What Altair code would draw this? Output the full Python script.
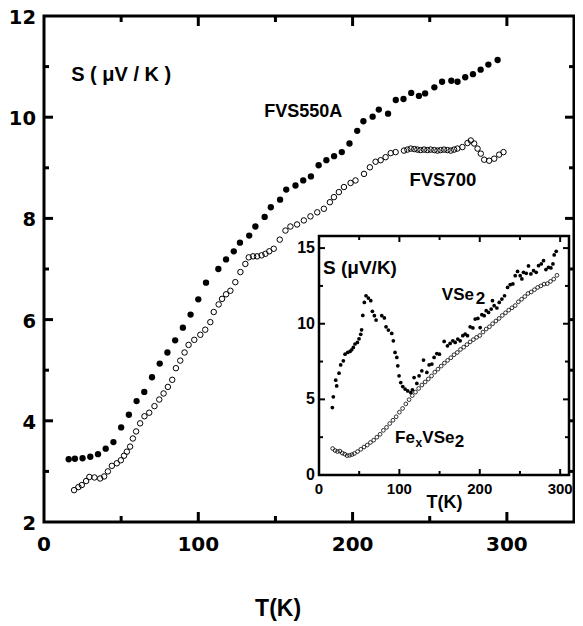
import altair as alt
import pandas as pd

# ---------------- data ----------------
T_550 = [16, 20, 25, 30, 35, 40, 45, 50, 55, 60, 65, 70, 75, 80, 85, 90, 95, 100, 105, 113,
         118, 123, 127, 133, 137, 143, 147, 153, 157, 163, 168, 173, 178, 183, 188, 193, 198,
         203, 207, 213, 217, 223, 228, 233, 238, 243, 247, 253, 258, 264, 268, 273, 278, 283,
         288, 294]
S_550 = [3.24, 3.25, 3.26, 3.29, 3.34, 3.45, 3.58, 3.87, 4.12, 4.39, 4.57, 4.86, 5.13, 5.35,
         5.59, 5.84, 6.10, 6.40, 6.73, 7.00, 7.19, 7.35, 7.52, 7.66, 7.84, 8.03, 8.22, 8.37,
         8.57, 8.65, 8.75, 8.83, 9.05, 9.15, 9.23, 9.31, 9.48, 9.73, 9.92, 10.01, 10.15, 10.07,
         10.34, 10.36, 10.48, 10.42, 10.47, 10.59, 10.70, 10.72, 10.70, 10.79, 10.85, 10.94,
         11.04, 11.13]

T_700 = [19.5, 22.3, 24.5, 27.3, 29.4, 32.7, 36.4, 39, 41.4, 44, 47.2, 49.8, 51.9, 53.7, 55.8,
         57.6, 59.7, 62.3, 65.1, 68.2, 71.6, 74.7, 77.5, 80.3, 83.1, 85.5, 88.3, 91.1, 93.7,
         97.4, 101.3, 104.5, 107.8, 110, 113.2, 115.4, 118, 120.8, 124, 127.3, 130.5, 132.7,
         135.5, 138.1, 141, 143.5, 146, 148.9, 152.8, 156.5, 159.7, 164, 168.4, 172.7, 177.1,
         181.4, 185.3, 187.9, 191.1, 194.4, 198.7, 201.9, 207.4, 211.2, 214.9, 218.2, 221.4,
         224.7, 227.9, 233.3, 235.5, 237.7, 240, 242, 244, 246.3, 248.5, 250.6, 253, 255, 257,
         259.3, 261.5, 263.6, 265.8, 267.9, 271.2, 274.5, 276.6, 278.8, 281, 283.1, 285.3,
         288.5, 291.8, 295, 297.8]
S_700 = [2.63, 2.69, 2.73, 2.81, 2.89, 2.88, 2.86, 2.90, 3.00, 3.11, 3.16, 3.22, 3.31, 3.39,
         3.49, 3.65, 3.79, 3.95, 4.09, 4.16, 4.29, 4.42, 4.54, 4.67, 4.81, 5.04, 5.19, 5.35,
         5.50, 5.60, 5.70, 5.80, 5.95, 6.15, 6.30, 6.41, 6.50, 6.57, 6.74, 6.94, 7.10, 7.23,
         7.25, 7.25, 7.27, 7.30, 7.35, 7.40, 7.58, 7.76, 7.84, 7.88, 7.96, 8.04, 8.12, 8.19,
         8.32, 8.42, 8.52, 8.62, 8.70, 8.75, 8.88, 9.01, 9.12, 9.15, 9.21, 9.29, 9.31, 9.34,
         9.36, 9.38, 9.37, 9.36, 9.35, 9.36, 9.35, 9.36, 9.35, 9.34, 9.35, 9.36, 9.35, 9.34,
         9.36, 9.38, 9.41, 9.49, 9.54, 9.48, 9.38, 9.28, 9.16, 9.14, 9.18, 9.26, 9.31]

T_VSE2 = [16.6, 17.8, 20.8, 22, 24.9, 27, 30.3, 32.4, 35.7, 38.6, 40.7, 42.7, 44.8, 47.7, 49.8,
          51.9, 53, 54.5, 56.4, 58.5, 61.4, 64.4, 66.4, 68.9, 71, 78.1, 81.3, 83.4, 86.3, 90.5,
          92.5, 94.6, 96.8, 98, 99.6, 101.7, 104.2, 107.1, 110.4, 114.2, 116.2, 118.3, 121.7,
          124.5, 127.9, 130, 134.2, 137, 140.4, 143.2, 146.6, 149.8, 155.7, 159.8, 163.1, 166.5,
          169.4, 172.7, 175.6, 178.9, 181.8, 184.7, 188, 191.4, 194.3, 197.6, 200.5, 202.6,
          205.5, 208, 210.9, 214.2, 215.8, 217.9, 221.3, 224.2, 227.5, 230.8, 234.6, 237.9,
          241.2, 244.1, 247, 250.3, 252.4, 254.4, 257.8, 260.6, 263.6, 266.9, 270.2, 273.1,
          276.5, 279.3, 282.3, 285.5, 288.5, 291, 292.6, 295.1]
S_VSE2 = [4.46, 5.17, 6.27, 5.89, 6.73, 7.28, 7.55, 7.99, 8.10, 8.17, 8.28, 8.43, 8.66, 8.76,
          9.00, 9.30, 9.60, 10.55, 11.41, 11.85, 11.70, 11.52, 10.82, 10.53, 10.24, 10.53, 10.38,
          9.80, 9.58, 9.36, 8.87, 8.10, 7.77, 7.22, 6.56, 6.11, 5.85, 5.68, 5.56, 5.45, 5.63,
          6.44, 6.05, 6.56, 6.89, 7.60, 6.78, 7.28, 7.33, 7.77, 8.03, 7.99, 8.83, 8.54, 8.70,
          8.87, 8.76, 8.99, 8.87, 9.21, 9.32, 9.21, 9.80, 9.72, 10.31, 10.35, 9.75, 10.60, 10.53,
          10.86, 10.75, 10.97, 11.52, 11.19, 11.04, 11.41, 11.63, 11.85, 12.40, 12.58, 12.63,
          13.18, 13.46, 13.18, 12.96, 13.40, 13.33, 13.82, 13.29, 13.51, 13.40, 13.84, 13.95,
          14.17, 13.58, 13.73, 13.69, 13.95, 14.55, 14.79]

T_FEVSE2 = [17, 20, 23, 26, 29, 32, 35, 38, 41, 44, 48, 52, 56, 60, 64, 68, 72, 76, 80, 84, 88,
            92, 96, 100, 104, 108, 112, 116, 120, 124, 128, 132, 136, 140, 144, 148, 152, 156,
            160, 164, 168, 172, 176, 180, 184, 188, 192, 196, 200, 204, 208, 212, 216, 220, 224,
            228, 232, 236, 240, 244, 248, 252, 256, 260, 264, 268, 272, 276, 280, 284, 288, 292,
            296]
S_FEVSE2 = [1.75, 1.62, 1.55, 1.58, 1.45, 1.38, 1.28, 1.30, 1.35, 1.42, 1.55, 1.70, 1.85, 1.98,
            2.15, 2.30, 2.50, 2.69, 2.95, 3.15, 3.40, 3.62, 3.85, 4.15, 4.40, 4.70, 4.98, 5.25,
            5.48, 5.72, 5.95, 6.15, 6.35, 6.55, 6.80, 7.00, 7.20, 7.40, 7.58, 7.75, 7.95, 8.10,
            8.30, 8.45, 8.62, 8.80, 8.95, 9.10, 9.22, 9.45, 9.65, 9.80, 10.00, 10.18, 10.35,
            10.55, 10.72, 10.90, 11.05, 11.20, 11.45, 11.62, 11.80, 12.00, 12.10, 12.25, 12.40,
            12.50, 12.62, 12.65, 12.80, 12.95, 13.20]

MAIN_X_LABELS = [0, 100, 200, 300]
MAIN_Y_LABELS = [2, 4, 6, 8, 10, 12]
MAIN_X_MAJOR = [100, 200, 300]
MAIN_X_MINOR = [50, 150, 250]
MAIN_Y_MAJOR = [4, 6, 8, 10]
MAIN_Y_MINOR = [3, 5, 7, 9, 11]

INS_X_LABELS = [0, 100, 200, 300]
INS_Y_LABELS = [0, 5, 10, 15]
INS_X_MAJOR = [100, 200, 300]
INS_X_MINOR = [50, 150, 250]
INS_Y_MAJOR = [5, 10, 15]
INS_Y_MINOR = [2.5, 7.5, 12.5]
INS_T_EXTENT = [0, 311]
INS_S_EXTENT = [0, 15.8]

# ---------------- layout ----------------
W, H = 530, 506
INS_L, INS_R, INS_T, INS_B = 275, 525, 220, 459

BOLD = "Liberation Sans"
NARROW = "Liberation Sans Narrow, Liberation Sans"
WIDE = "DejaVu Sans"

mainx = alt.Scale(domain=[0, 343.5], nice=False, zero=False)
mainy = alt.Scale(domain=[2, 12], nice=False, zero=False)
insx = alt.Scale(domain=INS_T_EXTENT, range=[INS_L, INS_R], nice=False, zero=False)
insy = alt.Scale(domain=INS_S_EXTENT, range=[INS_B, INS_T], nice=False, zero=False)


def vticks(vals, sc, y0, y1, w):
    return alt.Chart(pd.DataFrame({"v": vals})).mark_rule(color="black", strokeWidth=w).encode(
        x=alt.X("v:Q", scale=sc, axis=None), y=alt.value(y0), y2=alt.value(y1))


def hticks(vals, sc, x0, x1, w):
    return alt.Chart(pd.DataFrame({"v": vals})).mark_rule(color="black", strokeWidth=w).encode(
        y=alt.Y("v:Q", scale=sc, axis=None), x=alt.value(x0), x2=alt.value(x1))


def xlabels(vals, sc, ypix, size, font):
    return alt.Chart(pd.DataFrame({"v": vals})).mark_text(
        align="center", baseline="middle", font=font, fontSize=size, fontWeight="bold",
        color="black").encode(
        x=alt.X("v:Q", scale=sc, axis=None), y=alt.value(ypix), text=alt.Text("v:Q"))


def ylabels(vals, sc, xpix, size, font, dy=0):
    return alt.Chart(pd.DataFrame({"v": vals})).mark_text(
        align="right", baseline="middle", font=font, fontSize=size, fontWeight="bold",
        color="black", dy=dy).encode(
        y=alt.Y("v:Q", scale=sc, axis=None), x=alt.value(xpix), text=alt.Text("v:Q"))


def label(txt, x, y, scx, scy, size, font, align="center", baseline="middle"):
    return alt.Chart(pd.DataFrame({"t": [txt]})).mark_text(
        align=align, baseline=baseline, font=font, fontSize=size, fontWeight="bold",
        color="black").encode(
        x=alt.X(datum=x, scale=scx, axis=None),
        y=alt.Y(datum=y, scale=scy, axis=None),
        text="t:N")


# ---------------- main panel ----------------
df550 = pd.DataFrame({"T": T_550, "S": S_550})
df700 = pd.DataFrame({"T": T_700, "S": S_700})

p550 = alt.Chart(df550).mark_circle(size=40, color="black", opacity=1).encode(
    x=alt.X("T:Q", scale=mainx, axis=None),
    y=alt.Y("S:Q", scale=mainy, axis=None))
p700 = alt.Chart(df700).mark_point(shape="circle", filled=False, size=30, strokeWidth=1,
                                   color="black", opacity=1).encode(
    x=alt.X("T:Q", scale=mainx, axis=None),
    y=alt.Y("S:Q", scale=mainy, axis=None))

main = alt.layer(
    p550, p700,
    vticks(MAIN_X_MAJOR, mainx, H, H - 10, 3), vticks(MAIN_X_MINOR, mainx, H, H - 6, 3),
    vticks(MAIN_X_MAJOR, mainx, 0, 10, 3), vticks(MAIN_X_MINOR, mainx, 0, 6, 3),
    hticks(MAIN_Y_MAJOR, mainy, 0, 9, 3), hticks(MAIN_Y_MINOR, mainy, 0, 5, 3),
    hticks(MAIN_Y_MAJOR, mainy, W, W - 9, 3), hticks(MAIN_Y_MINOR, mainy, W, W - 5, 3),
    xlabels(MAIN_X_LABELS, mainx, H + 23, 20, WIDE),
    ylabels(MAIN_Y_LABELS, mainy, -8, 19.5, WIDE, dy=2),
    label("T(K)", 151.7, 2, mainx, mainy, 23, BOLD, baseline="middle").encode(y=alt.value(593)),
    label("S ( μV / K )", 50, 10.83, mainx, mainy, 20, BOLD),
    label("FVS550A", 168, 10.10, mainx, mainy, 18, BOLD),
    label("FVS700", 258.5, 8.76, mainx, mainy, 18.5, BOLD),
)

# ---------------- inset ----------------
dfv = pd.DataFrame({"T": T_VSE2, "S": S_VSE2})
dff = pd.DataFrame({"T": T_FEVSE2, "S": S_FEVSE2})
dfbox = pd.DataFrame({"x0": [INS_T_EXTENT[0]], "x1": [INS_T_EXTENT[1]],
                      "y0": [INS_S_EXTENT[0]], "y1": [INS_S_EXTENT[1]]})

box = alt.Chart(dfbox).mark_rect(fill="white", stroke="black", strokeWidth=2.5).encode(
    x=alt.X("x0:Q", scale=insx, axis=None), x2="x1:Q",
    y=alt.Y("y0:Q", scale=insy, axis=None), y2="y1:Q")

pv = alt.Chart(dfv).mark_circle(size=14, color="black", opacity=1).encode(
    x=alt.X("T:Q", scale=insx, axis=None),
    y=alt.Y("S:Q", scale=insy, axis=None))
pf = alt.Chart(dff).mark_point(shape="circle", filled=False, size=14, strokeWidth=0.8,
                               color="black", opacity=1).encode(
    x=alt.X("T:Q", scale=insx, axis=None),
    y=alt.Y("S:Q", scale=insy, axis=None))

inset = alt.layer(
    box,
    vticks(INS_X_MAJOR, insx, INS_B, INS_B - 6, 2), vticks(INS_X_MINOR, insx, INS_B, INS_B - 4, 2),
    vticks(INS_X_MAJOR, insx, INS_T, INS_T + 6, 2), vticks(INS_X_MINOR, insx, INS_T, INS_T + 4, 2),
    hticks(INS_Y_MAJOR, insy, INS_L, INS_L + 6, 2), hticks(INS_Y_MINOR, insy, INS_L, INS_L + 4, 2),
    hticks(INS_Y_MAJOR, insy, INS_R, INS_R - 6, 2), hticks(INS_Y_MINOR, insy, INS_R, INS_R - 4, 2),
    pf, pv,
    xlabels(INS_X_LABELS, insx, INS_B + 14, 15, NARROW),
    ylabels(INS_Y_LABELS, insy, INS_L - 4, 16, NARROW),
    label("T(K)", 156, -1.85, insx, insy, 18, NARROW),
    label("S (μV/K)", 51, 13.68, insx, insy, 19, BOLD),
    label("VSe", 152.8, 11.57, insx, insy, 17, BOLD, align="left", baseline="alphabetic"),
    label("2", 195, 11.30, insx, insy, 17, BOLD, align="left", baseline="alphabetic"),
    label("Fe", 94.6, 2.12, insx, insy, 17, BOLD, align="left", baseline="alphabetic"),
    label("x", 120, 1.85, insx, insy, 12, BOLD, align="left", baseline="alphabetic"),
    label("VSe", 128.5, 2.12, insx, insy, 17, BOLD, align="left", baseline="alphabetic"),
    label("2", 169, 1.85, insx, insy, 17, BOLD, align="left", baseline="alphabetic"),
)

chart = alt.layer(main, inset).resolve_scale(x="independent", y="independent").properties(
    width=W, height=H,
    autosize=alt.AutoSizeParams(type="none"),
    padding={"left": 36, "top": 8, "right": 1, "bottom": 100},
).configure(background="white").configure_view(stroke="black", strokeWidth=3)

chart.save("out.html", embed_options={"renderer": "svg", "actions": False})
